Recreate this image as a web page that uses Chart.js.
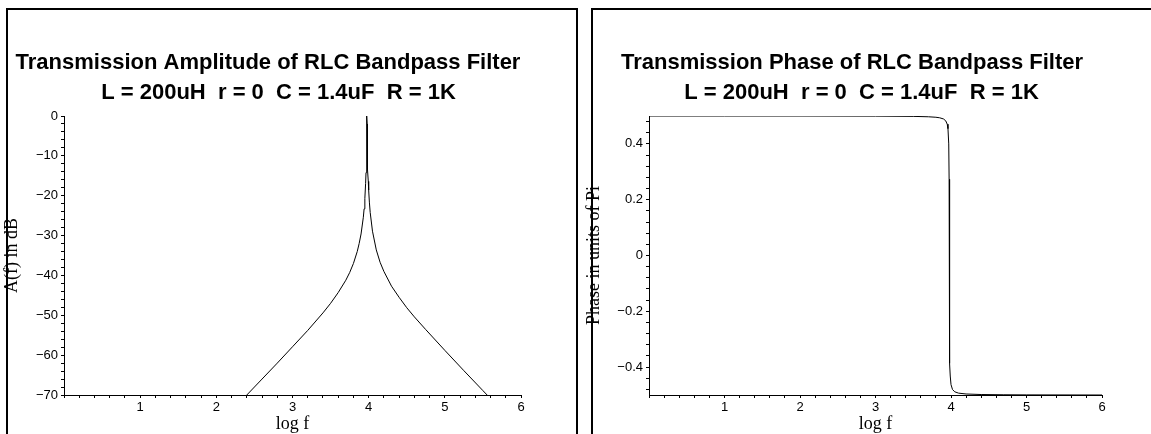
<!DOCTYPE html>
<html>
<head>
<meta charset="utf-8">
<script src="https://cdn.jsdelivr.net/npm/chart.js@4.4.1/dist/chart.umd.min.js"></script>
<style>
  html, body { margin: 0; padding: 0; background: #fff; }
  body { width: 1151px; height: 434px; overflow: hidden; position: relative; }
  .panel { position: absolute; top: 8px; height: 520px; border: 2px solid #000; box-sizing: border-box; }
  #panel-amp { left: 6px; width: 572px; }
  #panel-phase { left: 591px; width: 620px; }
  canvas { position: absolute; top: 0; }
  #chart-amp { left: 0; }
  #chart-phase { left: 580px; }
</style>
</head>
<body>
<div class="panel" id="panel-amp"></div>
<div class="panel" id="panel-phase"></div>
<canvas id="chart-amp" width="560" height="440"></canvas>
<canvas id="chart-phase" width="571" height="440"></canvas>
<script>
// values
var ampTitle = ["Transmission Amplitude of RLC Bandpass Filter", "L = 200uH  r = 0  C = 1.4uF  R = 1K"];
var phaseTitle = ["Transmission Phase of RLC Bandpass Filter", "L = 200uH  r = 0  C = 1.4uF  R = 1K"];

var ampLogF = [2.2, 2.4, 2.6, 2.8, 3.0, 3.2, 3.4, 3.5, 3.6, 3.7, 3.75, 3.8, 3.85, 3.875, 3.9, 3.93, 3.94, 3.95, 3.96, 3.965, 3.97, 3.972, 3.975, 3.976, 3.978,
  3.98, 3.981, 3.983, 3.985, 3.99, 3.995, 4.0, 4.01, 4.02, 4.05, 4.1, 4.15, 4.2, 4.3, 4.4, 4.5, 4.6, 4.75, 5.0, 5.25, 5.5, 5.75];
var ampDb = [-74.0, -70.0, -66.0, -62.0, -57.9, -53.8, -49.4, -47.0, -44.3, -41.2, -39.3, -37.0, -34.0, -32.0, -29.6, -25.4, -23.3, -20.7, -16.9, -14.2, -10.2, -8.0, -3.7, -2.0, 0,
  -2.0, -3.7, -6.7, -9.2, -13.5, -16.4, -18.6, -21.8, -24.2, -28.9, -33.6, -36.7, -39.0, -42.7, -45.5, -48.1, -50.4, -53.6, -58.8, -63.9, -68.9, -73.9];

var phaseLogF = [0, 1, 2, 3, 3.5, 3.7, 3.8, 3.85, 3.9, 3.93, 3.95, 3.96, 3.97, 3.975, 3.978, 3.981, 3.985, 3.99, 4.0, 4.02, 4.05, 4.1, 4.2, 4.4, 4.7, 5, 6];
var phasePi = [0.5, 0.5, 0.5, 0.4996, 0.4986, 0.4972, 0.4955, 0.4936, 0.4895, 0.4828, 0.4706, 0.4545, 0.4, 0.2734, 0, -0.2734, -0.387, -0.432, -0.4627, -0.4804, -0.4886, -0.4933, -0.4964, -0.4983, -0.4992, -0.4996, -0.5];

var xTickLabels = ["1", "2", "3", "4", "5", "6"];

function points(xs, ys) {
  return xs.map(function (x, i) { return { x: x, y: ys[i] }; });
}

function minus(v) {
  return String(v).replace("-", "\u2212");
}

var titleLines = {
  id: "titleLines",
  afterDraw: function (chart, args, opts) {
    var ctx = chart.ctx;
    ctx.save();
    ctx.font = "bold 22px 'Liberation Sans', Arial, sans-serif";
    ctx.fillStyle = "#000";
    ctx.textAlign = "center";
    ctx.textBaseline = "alphabetic";
    opts.lines.forEach(function (l, i) {
      ctx.fillText(l, opts.x[i], opts.y[i]);
    });
    ctx.restore();
  },
};

var tickFont = { family: "'Liberation Sans', Arial, sans-serif", size: 13 };
var axisTitleFont = { family: "'Liberation Serif', 'Times New Roman', serif", size: 18 };

// minor ticks on whole multiples of the step, labels every `every` ticks
function stepTicks(min, max, step) {
  return function (s) {
    var ticks = [];
    for (var k = Math.ceil(min / step - 1e-9); k * step <= max + 1e-9; k++) {
      ticks.push({ value: Math.round(k * step * 1000) / 1000 });
    }
    s.ticks = ticks;
  };
}

function xAxis() {
  return {
    type: "linear",
    min: 0,
    max: 6,
    border: { color: "#000", width: 1 },
    grid: { drawOnChartArea: false, tickLength: 3, color: "#000" },
    ticks: {
      autoSkip: false,
      maxRotation: 0,
      padding: 2,
      color: "#000",
      font: tickFont,
      callback: function (v) {
        var i = Math.round(v * 10);
        if (i % 10 !== 0 || i === 0) return "";
        return xTickLabels[i / 10 - 1];
      },
    },
    afterBuildTicks: stepTicks(0, 6, 0.2),
    title: { display: true, text: "log f", color: "#000", font: axisTitleFont, padding: { top: 0, bottom: 5 } },
    afterFit: function (s) { s.height = 45; },
  };
}

function yAxis(min, max, step, every, yTitle, titlePad, width) {
  return {
    type: "linear",
    min: min,
    max: max,
    border: { color: "#000", width: 1 },
    grid: { drawOnChartArea: false, tickLength: 3, color: "#000" },
    ticks: {
      autoSkip: false,
      padding: 3,
      color: "#000",
      font: tickFont,
      callback: function (v) {
        var k = Math.round(v / step);
        if (k % every !== 0) return "";
        return minus(Math.round(v * 100) / 100);
      },
    },
    afterBuildTicks: stepTicks(min, max, step),
    title: { display: true, text: yTitle, color: "#000", font: axisTitleFont, padding: { top: titlePad, bottom: 0 } },
    afterFit: function (s) { s.width = width; },
  };
}

var lineStyle = { borderColor: "#000", borderWidth: 1, pointRadius: 0, showLine: true, tension: 0 };

new Chart("chart-amp", {
  type: "scatter",
  data: {
    datasets: [Object.assign({ data: points(ampLogF, ampDb) }, lineStyle)],
  },
  options: {
    responsive: false,
    animation: false,
    devicePixelRatio: 1,
    layout: { padding: { left: 0, right: 39, top: 116, bottom: 0 } },
    plugins: {
      legend: { display: false },
      tooltip: { enabled: false },
      titleLines: { lines: ampTitle, x: [268, 278.5], y: [69, 99] },
    },
    scales: {
      x: xAxis(),
      y: yAxis(-70, 0, 2, 5, "A(f) in dB", 1, 64),
    },
  },
  plugins: [titleLines],
});

new Chart("chart-phase", {
  type: "scatter",
  data: {
    datasets: [Object.assign({ data: points(phaseLogF, phasePi) }, lineStyle)],
  },
  options: {
    responsive: false,
    animation: false,
    devicePixelRatio: 1,
    layout: { padding: { left: 0, right: 49, top: 116, bottom: 0 } },
    plugins: {
      legend: { display: false },
      tooltip: { enabled: false },
      titleLines: { lines: phaseTitle, x: [272, 281.5], y: [69, 99] },
    },
    scales: {
      x: xAxis(),
      y: yAxis(-0.5, 0.5, 0.04, 5, "Phase in units of Pi", 3, 69),
    },
  },
  plugins: [titleLines],
});
</script>
</body>
</html>
